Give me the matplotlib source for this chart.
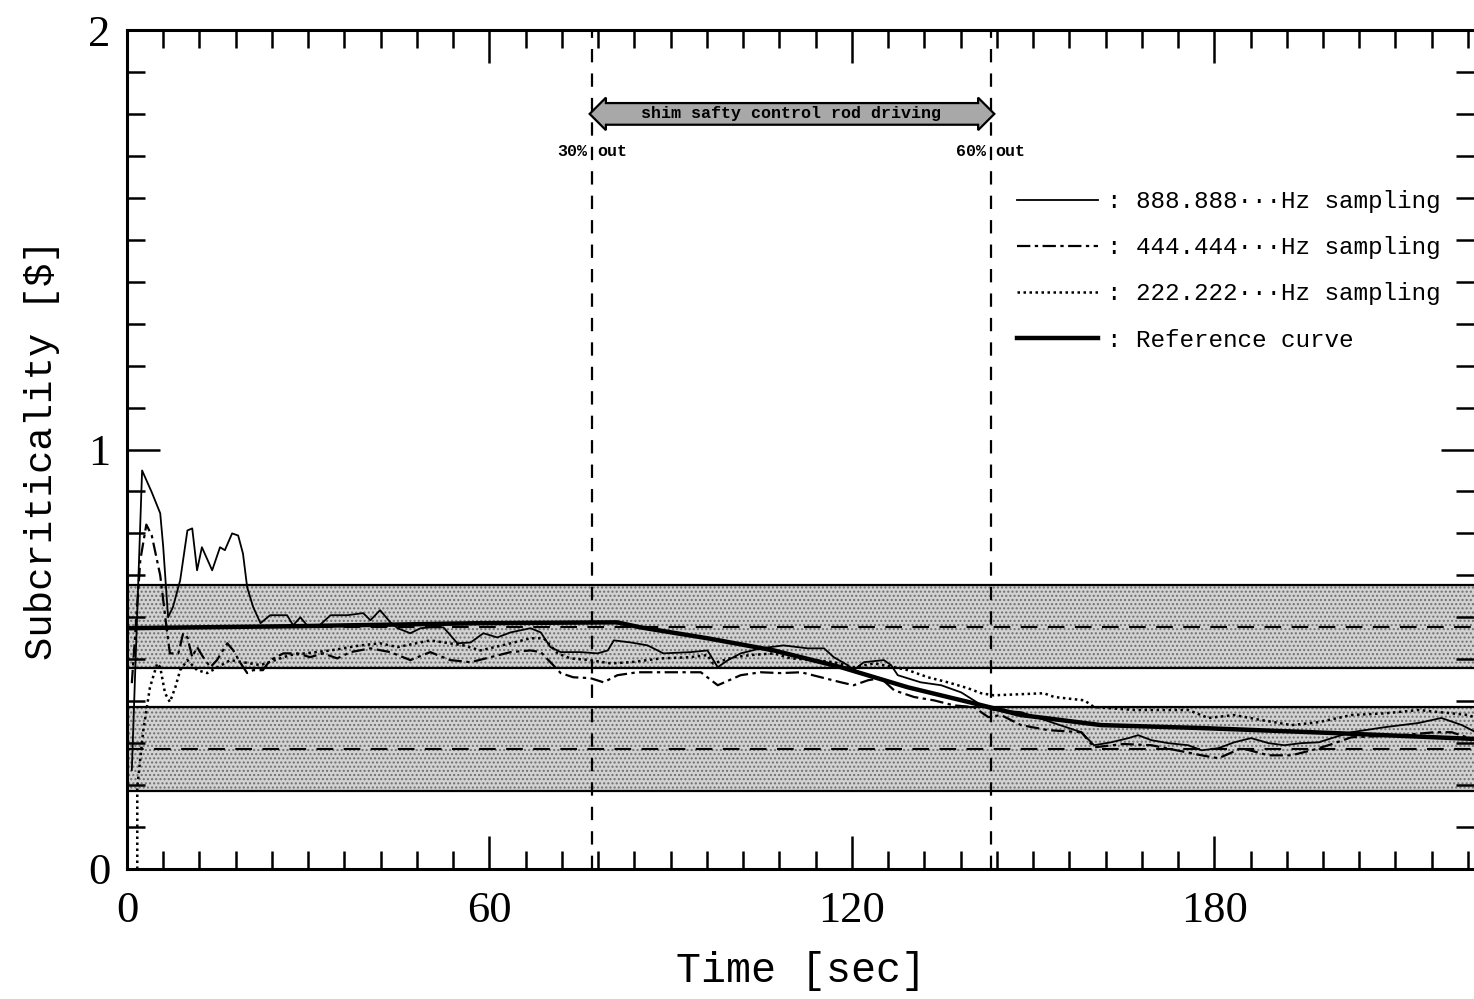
import numpy as np
import matplotlib.pyplot as plt
from matplotlib.ticker import MultipleLocator

plt.rcParams['font.family'] = ['Liberation Mono', 'DejaVu Sans Mono']

# values: time [sec], subcriticality [$]
t_888 = [0.8, 2.5, 4.1, 5.5, 6.0, 6.8, 7.6, 8.8, 10.0, 10.8, 11.6, 12.4, 14.1, 15.4,
         16.2, 17.4, 18.4, 19.2, 19.9, 20.9, 22.1, 23.7, 26.5, 27.5, 28.7, 29.8, 31.5,
         33.7, 36.5, 39.1, 40.3, 41.9, 43.6, 44.8, 46.9, 48.6, 50.2, 52.4, 54.7, 56.9,
         59.0, 61.3, 63.5, 66.8, 68.5, 70.1, 71.8, 75.1, 77.9, 79.6, 80.6, 83.4, 86.2,
         88.8, 93.3, 96.1, 97.8, 99.5, 101.6, 104.9, 108.7, 112.7, 115.4, 117.0, 119.3,
         120.3, 122.0, 125.3, 126.5, 127.6, 131.4, 134.8, 138.1, 140.2, 141.9, 143.5,
         148.0, 153.0, 158.0, 160.1, 162.9, 165.8, 167.4, 169.6, 172.4, 175.7, 177.9,
         180.7, 183.3, 186.1, 189.0, 191.6, 194.4, 197.3, 199.9, 202.7, 208.2, 213.8,
         217.6, 221.0, 223.3]
rho_888 = [0.236, 0.950, 0.898, 0.848, 0.767, 0.600, 0.624, 0.688, 0.807, 0.812, 0.712,
           0.767, 0.712, 0.767, 0.760, 0.800, 0.795, 0.752, 0.671, 0.624, 0.586, 0.605,
           0.605, 0.581, 0.600, 0.581, 0.576, 0.605, 0.605, 0.610, 0.593, 0.617, 0.588,
           0.574, 0.562, 0.574, 0.576, 0.576, 0.538, 0.540, 0.562, 0.552, 0.564, 0.574,
           0.564, 0.529, 0.517, 0.517, 0.514, 0.521, 0.545, 0.540, 0.533, 0.514, 0.517,
           0.521, 0.481, 0.498, 0.514, 0.526, 0.533, 0.526, 0.526, 0.505, 0.486, 0.474,
           0.493, 0.498, 0.486, 0.462, 0.445, 0.438, 0.421, 0.402, 0.386, 0.379, 0.374,
           0.350, 0.326, 0.295, 0.302, 0.312, 0.319, 0.307, 0.300, 0.295, 0.283, 0.288,
           0.302, 0.312, 0.300, 0.295, 0.300, 0.302, 0.314, 0.326, 0.338, 0.348, 0.360,
           0.343, 0.326]

t_444 = [0.8, 2.2, 3.2, 4.1, 5.5, 6.6, 7.1, 8.5, 9.3, 10.0, 10.8, 11.6, 12.6, 13.8,
         14.9, 16.6, 17.6, 18.7, 19.9, 20.9, 22.5, 23.7, 25.9, 28.2, 30.3, 32.5, 34.8,
         37.0, 40.3, 43.6, 46.9, 50.2, 53.5, 56.9, 60.2, 63.5, 66.8, 68.5, 70.1, 71.8,
         73.9, 76.7, 78.9, 81.2, 84.5, 88.4, 95.0, 97.8, 101.6, 104.9, 108.2, 111.6,
         114.9, 118.2, 120.3, 122.7, 124.8, 127.0, 130.3, 133.6, 136.9, 140.2, 142.6,
         144.7, 148.0, 152.5, 158.0, 160.1, 165.0, 169.6, 177.9, 180.7, 184.5, 189.0,
         192.8, 196.1, 198.9, 202.7, 211.0, 216.5, 219.3, 223.3]
rho_444 = [0.443, 0.736, 0.821, 0.795, 0.700, 0.569, 0.514, 0.514, 0.562, 0.552, 0.505,
           0.529, 0.505, 0.481, 0.498, 0.538, 0.521, 0.493, 0.467, 0.474, 0.474, 0.498,
           0.514, 0.514, 0.505, 0.514, 0.502, 0.517, 0.526, 0.517, 0.498, 0.517, 0.498,
           0.493, 0.505, 0.517, 0.521, 0.517, 0.493, 0.467, 0.457, 0.455, 0.445, 0.462,
           0.469, 0.469, 0.469, 0.438, 0.462, 0.469, 0.467, 0.469, 0.457, 0.445, 0.438,
           0.450, 0.455, 0.426, 0.410, 0.402, 0.390, 0.386, 0.362, 0.367, 0.343, 0.331,
           0.326, 0.290, 0.298, 0.295, 0.271, 0.264, 0.288, 0.271, 0.271, 0.283, 0.295,
           0.314, 0.319, 0.326, 0.326, 0.307]

t_222 = [1.7, 1.7, 2.7, 3.8, 5.0, 5.5, 6.3, 7.1, 8.0, 8.8, 10.0, 11.6, 13.3, 17.1, 22.1,
         27.0, 33.7, 38.6, 41.9, 44.8, 50.2, 55.7, 58.5, 63.5, 66.8, 69.0, 71.3, 73.4,
         76.7, 80.1, 83.4, 88.4, 93.3, 96.1, 97.0, 100.5, 103.3, 107.1, 109.9, 113.7,
         117.0, 120.3, 123.7, 127.0, 129.3, 132.6, 135.9, 139.2, 141.4, 143.5, 151.8,
         153.5, 158.5, 160.1, 166.8, 175.7, 179.0, 183.3, 187.8, 192.8, 197.3, 202.7,
         208.2, 213.8, 222.1, 223.3]
rho_222 = [0.0, 0.195, 0.331, 0.433, 0.490, 0.481, 0.419, 0.398, 0.433, 0.474, 0.498,
           0.474, 0.467, 0.498, 0.486, 0.510, 0.521, 0.533, 0.538, 0.529, 0.545, 0.533,
           0.521, 0.538, 0.550, 0.550, 0.514, 0.502, 0.498, 0.490, 0.493, 0.502, 0.505,
           0.510, 0.490, 0.505, 0.510, 0.514, 0.502, 0.498, 0.493, 0.481, 0.490, 0.481,
           0.474, 0.457, 0.445, 0.431, 0.419, 0.414, 0.419, 0.410, 0.402, 0.386, 0.379,
           0.379, 0.360, 0.367, 0.355, 0.343, 0.350, 0.367, 0.371, 0.379, 0.367, 0.360]

t_ref = [0.0, 28.7, 58.5, 81.1, 85.0, 96.1, 107.1, 118.2, 129.3, 140.2, 148.0, 161.3,
         177.9, 199.9, 223.1]
rho_ref = [0.574, 0.579, 0.586, 0.588, 0.576, 0.550, 0.521, 0.481, 0.433, 0.395, 0.367,
           0.343, 0.336, 0.324, 0.310]

band_centers = [0.578, 0.285]
band_half = 0.1
rod_start, rod_end = 77, 143

fig = plt.figure(figsize=(14.74, 9.99), dpi=100)
ax = fig.add_axes([127 / 1474, 130 / 999, 1347 / 1474, 839 / 999])

for c in band_centers:
    ax.axhspan(c - band_half, c + band_half, facecolor='#d2d2d2', edgecolor='#6e6e6e',
               hatch='....', lw=0, zorder=0)
    ax.axhline(c - band_half, color='black', lw=1.6, zorder=1)
    ax.axhline(c + band_half, color='black', lw=1.6, zorder=1)
    ax.axhline(c, color='black', lw=1.5, ls=(0, (8, 5)), zorder=1)

for xv in (rod_start, rod_end):
    ax.axvline(xv, color='black', lw=1.6, ls=(0, (6, 5)), zorder=2)

ax.plot(t_888, rho_888, color='black', lw=1.3, label=': 888.888\u00b7\u00b7\u00b7Hz sampling')
ax.plot(t_444, rho_444, color='black', lw=1.6, ls=(0, (6, 2, 1.5, 2)),
        label=': 444.444\u00b7\u00b7\u00b7Hz sampling')
ax.plot(t_222, rho_222, color='black', lw=1.8, ls=(0, (1, 1.4)),
        label=': 222.222\u00b7\u00b7\u00b7Hz sampling')
ax.plot(t_ref, rho_ref, color='black', lw=3.2, label=': Reference curve')

# control rod driving arrow
ax.text((rod_start + rod_end) / 2, 1.80, '    shim safty control rod driving    ',
        ha='center', va='center', fontsize=12, fontweight='bold', zorder=5,
        bbox=dict(boxstyle='darrow,pad=0.2', fc='#a8a8a8', ec='black', lw=1.6))
ax.text(rod_start - 0.8, 1.71, '30%', ha='right', va='center', fontsize=12, fontweight='bold')
ax.text(rod_start + 0.8, 1.71, 'out', ha='left', va='center', fontsize=12, fontweight='bold')
ax.text(rod_end - 0.8, 1.71, '60%', ha='right', va='center', fontsize=12, fontweight='bold')
ax.text(rod_end + 0.8, 1.71, 'out', ha='left', va='center', fontsize=12, fontweight='bold')

ax.legend(loc='upper left', bbox_to_anchor=(0.661, 0.809), frameon=False, fontsize=17.5,
          handlelength=3.3, handletextpad=0.4, borderpad=0, borderaxespad=0,
          labelspacing=0.95)

ax.set_xlim(0, 223)
ax.set_ylim(0, 2)
ax.xaxis.set_major_locator(MultipleLocator(60))
ax.xaxis.set_minor_locator(MultipleLocator(6))
ax.yaxis.set_major_locator(MultipleLocator(1))
ax.yaxis.set_minor_locator(MultipleLocator(0.1))
ax.tick_params(which='both', direction='in', top=True, right=True, width=1.8)
ax.tick_params(which='major', length=24, labelsize=32)
ax.tick_params(axis='x', which='major', pad=16)
ax.tick_params(axis='y', which='major', pad=12)
ax.tick_params(which='minor', length=13)
for lab in ax.get_xticklabels() + ax.get_yticklabels():
    lab.set_fontfamily(['Liberation Serif', 'DejaVu Serif'])
for s in ax.spines.values():
    s.set_linewidth(2.2)
ax.spines['right'].set_visible(False)

ax.set_xlabel('Time [sec]', fontsize=30, labelpad=14)
ax.set_ylabel('Subcriticality [$]', fontsize=28, labelpad=20)

fig.savefig('out.png', dpi=100)
